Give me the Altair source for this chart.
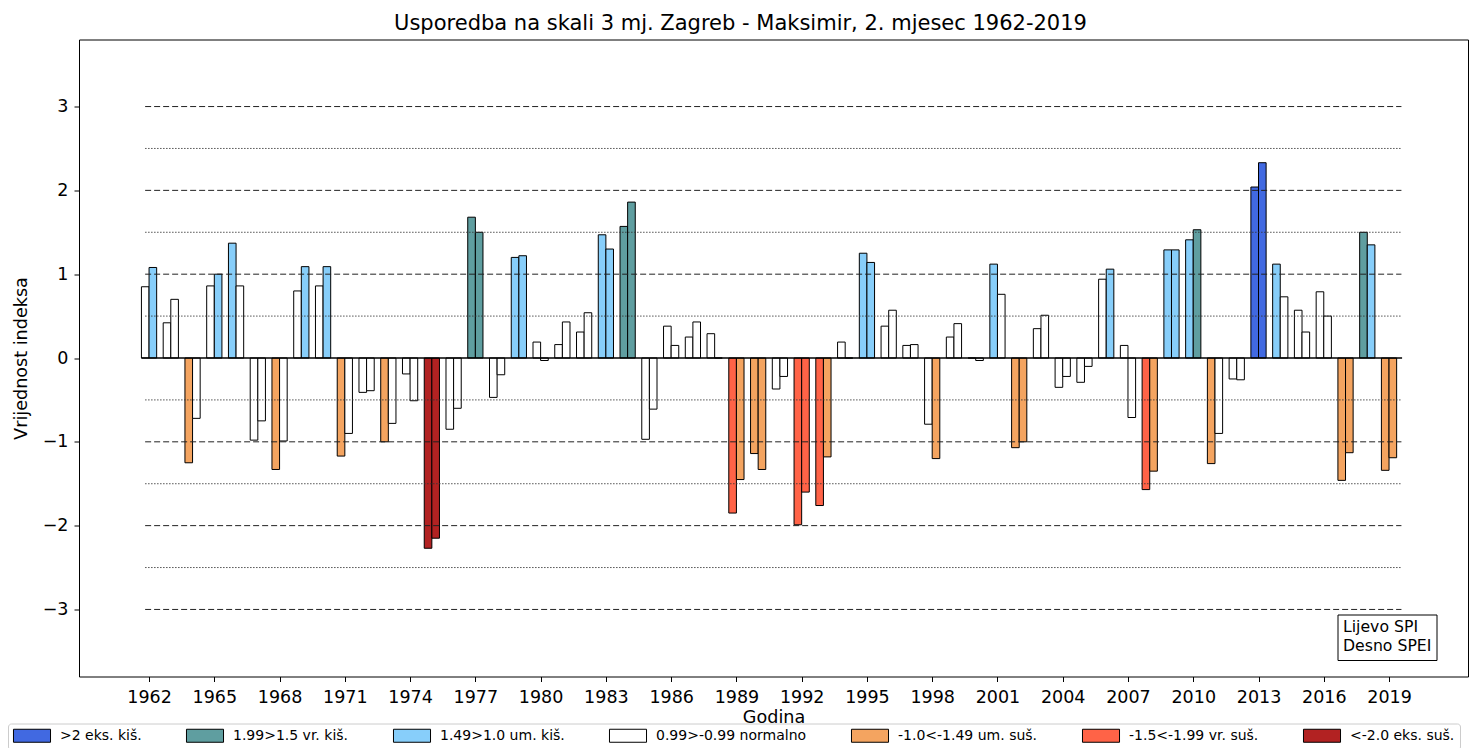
import altair as alt
import pandas as pd

# ---------------- data ----------------
years = list(range(1962, 2020))
spi = [0.85, 0.42, -1.25, 0.86, 1.37, -0.98, -1.33, 0.80, 0.86, -1.17,
       -0.41, -1.00, -0.19, -2.27, -0.85, 1.68, -0.47, 1.20, 0.19, 0.16,
       0.31, 1.47, 1.57, -0.97, 0.38, 0.25, 0.29, -1.85, -1.14, -0.37,
       -1.99, -1.76, 0.19, 1.25, 0.38, 0.15, -0.79, 0.25, 0.00, 1.12,
       -1.07, 0.35, -0.35, -0.29, 0.94, 0.15, -1.57, 1.29, 1.41, -1.26,
       -0.25, 2.04, 1.12, 0.57, 0.79, -1.46, 1.50, -1.34]
spei = [1.08, 0.70, -0.72, 1.00, 0.86, -0.75, -0.99, 1.09, 1.09, -0.90,
        -0.39, -0.78, -0.51, -2.15, -0.60, 1.50, -0.20, 1.22, -0.03, 0.43,
        0.54, 1.30, 1.86, -0.61, 0.15, 0.43, 0.00, -1.45, -1.33, -0.22,
        -1.60, -1.18, 0.00, 1.14, 0.57, 0.16, -1.20, 0.41, -0.03, 0.76,
        -1.00, 0.51, -0.22, -0.10, 1.06, -0.71, -1.35, 1.29, 1.53, -0.90,
        -0.26, 2.33, 0.73, 0.31, 0.50, -1.13, 1.35, -1.19]

class_labels = [">2 eks. kiš.", "1.99>1.5 vr. kiš.", "1.49>1.0 um. kiš.",
                "0.99>-0.99 normalno", "-1.0<-1.49 um. suš.",
                "-1.5<-1.99 vr. suš.", "<-2.0 eks. suš."]
class_colors = ["#4169E1", "#5F9EA0", "#87CEFA", "#FFFFFF",
                "#F4A460", "#FF6347", "#B22222"]

dashed_levels = [-3, -2, -1, 1, 2, 3]
dotted_levels = [-2.5, -1.5, -0.5, 0.5, 1.5, 2.5]
x_ticks = list(range(1962, 2020, 3))
y_ticks = [-3, -2, -1, 0, 1, 2, 3]

title_text = "Usporedba na skali 3 mj. Zagreb - Maksimir, 2. mjesec 1962-2019"
x_title = "Godina"
y_title = "Vrijednost indeksa"
note_text = "Lijevo SPI\nDesno SPEI"

BAR_W = 0.35
FONT = "DejaVu Sans"


def classify(v):
    if v >= 2.0:
        return class_labels[0]
    if v >= 1.5:
        return class_labels[1]
    if v >= 1.0:
        return class_labels[2]
    if v > -1.0:
        return class_labels[3]
    if v > -1.5:
        return class_labels[4]
    if v > -2.0:
        return class_labels[5]
    return class_labels[6]


rows = []
for yr, a, b in zip(years, spi, spei):
    rows.append(dict(year=yr, idx="SPI", value=a, x0=yr - BAR_W, x1=yr, base=0, cls=classify(a)))
    rows.append(dict(year=yr, idx="SPEI", value=b, x0=yr, x1=yr + BAR_W, base=0, cls=classify(b)))
df = pd.DataFrame(rows)

g0, g1 = years[0] - 0.18, years[-1] + 0.57
dash_df = pd.DataFrame({"lvl": dashed_levels, "xs": g0, "xe": g1})
dot_df = pd.DataFrame({"lvl": dotted_levels, "xs": g0, "xe": g1})
zero_df = pd.DataFrame({"lvl": [0], "xs": [years[0] - BAR_W], "xe": [years[-1] + 0.6]})

xscale = alt.Scale(domain=[1958.78, 2022.63], nice=False, zero=False)
yscale = alt.Scale(domain=[-3.8, 3.8], nice=False, zero=False)
xaxis = alt.Axis(values=x_ticks, format="d", labelPadding=7, titlePadding=2)
yaxis = alt.Axis(values=y_ticks, format="d", labelPadding=6, titlePadding=12)


def X(field):
    return alt.X(field, scale=xscale, axis=xaxis, title=x_title)


def Y(field):
    return alt.Y(field, scale=yscale, axis=yaxis, title=y_title)


bars = alt.Chart(df).mark_rect(stroke="black", strokeWidth=1).encode(
    x=X("x0:Q"),
    x2="x1:Q",
    y=Y("value:Q"),
    y2="base:Q",
    fill=alt.Fill("cls:N",
                  scale=alt.Scale(domain=class_labels, range=class_colors),
                  legend=alt.Legend(
                      title=None, orient="none", legendX=-71, legendY=684,
                      direction="horizontal", columns=7,
                      symbolType="M-2.85,-1L2.85,-1L2.85,1L-2.85,1Z",
                      symbolSize=169, symbolOffset=12,
                      symbolStrokeColor="black", symbolStrokeWidth=1,
                      symbolOpacity=1,
                      labelFont=FONT, labelFontSize=14, labelColor="black",
                      labelOffset=21, labelLimit=0, columnPadding=42,
                      padding=5, strokeColor="#cccccc", fillColor="white",
                      cornerRadius=3)),
)

dashed = alt.Chart(dash_df).mark_rule(color="#222222", strokeWidth=1, strokeDash=[6, 3]).encode(
    x=X("xs:Q"), x2="xe:Q", y=Y("lvl:Q"))
dotted = alt.Chart(dot_df).mark_rule(color="#333333", strokeWidth=0.9, strokeDash=[1.4, 1.6]).encode(
    x=X("xs:Q"), x2="xe:Q", y=Y("lvl:Q"))
zero = alt.Chart(zero_df).mark_rule(color="black", strokeWidth=1.4).encode(
    x=X("xs:Q"), x2="xe:Q", y=Y("lvl:Q"))

note_box = alt.Chart(alt.Data(values=[{}])).mark_rect(
    fill="white", stroke="black", strokeWidth=1).encode(
    x=alt.value(1259), x2=alt.value(1358), y=alt.value(575.5), y2=alt.value(621))
note = alt.Chart(alt.Data(values=[{}])).mark_text(
    align="left", baseline="alphabetic", lineBreak="\n", lineHeight=18.7,
    font=FONT, fontSize=15.7, color="black").encode(
    x=alt.value(1264), y=alt.value(592.5), text=alt.value(note_text))

chart = alt.layer(bars, dashed, dotted, zero, note_box, note).properties(
    width=1389, height=637,
    title=alt.TitleParams(title_text, font=FONT, fontSize=21, fontWeight="normal",
                          color="black", anchor="middle", dx=-33, offset=10,
                          dy=21, baseline="alphabetic"),
    autosize=alt.AutoSizeParams(type="none"),
    padding={"left": 71, "top": 31.5, "right": 5, "bottom": 71.5},
).configure(font=FONT).configure_view(
    stroke="black", strokeWidth=1
).configure_axis(
    domain=False, grid=False, tickColor="black", tickSize=5, tickWidth=1,
    labelColor="black", labelFont=FONT, labelFontSize=17.5,
    titleColor="black", titleFont=FONT, titleFontSize=17.6, titleFontWeight="normal"
)

chart.save("out.html", embed_options={"renderer": "svg", "actions": False})
